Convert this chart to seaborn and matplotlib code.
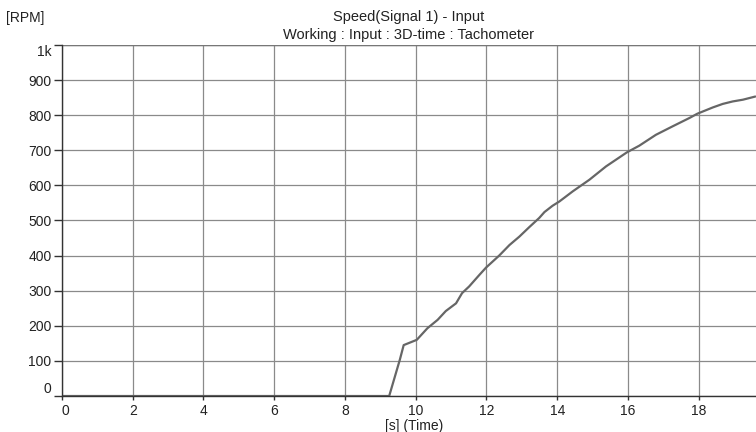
import numpy as np
import pandas as pd
import matplotlib
matplotlib.use("Agg")
import matplotlib.pyplot as plt
import seaborn as sns

# 데이터
time_s = [0.0, 9.25, 9.55, 9.66, 10.03, 10.33, 10.62, 10.85, 11.14, 11.31, 11.51,
          11.80, 11.99, 12.36, 12.65, 12.93, 13.21, 13.49, 13.64, 13.87, 14.06,
          14.44, 14.91, 15.38, 15.97, 16.32, 16.79, 17.26, 17.74, 17.96, 18.40,
          18.68, 18.96, 19.25, 19.60]
speed_rpm = [0, 0, 103, 145, 160, 193, 217, 242, 264, 293, 312,
             345, 366, 400, 430, 454, 481, 507, 524, 542, 554,
             583, 616, 654, 694, 713, 744, 768, 792, 804, 822,
             832, 839, 844, 853]

y_ticks = [0, 100, 200, 300, 400, 500, 600, 700, 800, 900, 1000]
y_labels = ['0', '100', '200', '300', '400', '500', '600', '700', '800', '900', '1k']
x_ticks = [0, 2, 4, 6, 8, 10, 12, 14, 16, 18]

df = pd.DataFrame({'time': time_s, 'speed': speed_rpm})

sns.set_style('white')
plt.rcParams['font.family'] = ['Liberation Sans', 'DejaVu Sans']

fig = plt.figure(figsize=(7.56, 4.32), dpi=100)
ax = fig.add_axes([0.082, 0.0833, 0.918, 0.8127])

sns.lineplot(data=df, x='time', y='speed', ax=ax, color='#666666', linewidth=1.6)

ax.set_xlim(0, 19.62)
ax.set_ylim(0, 1000)
ax.set_xticks(x_ticks)
ax.set_xticklabels([str(t) for t in x_ticks])
ax.set_yticks(y_ticks)
ax.set_yticklabels(y_labels)

# 가장자리 라벨 위치 조정
ylabs = ax.get_yticklabels()
ylabs[0].set_verticalalignment('bottom')
ylabs[-1].set_verticalalignment('top')
ax.get_xticklabels()[0].set_horizontalalignment('left')

ax.grid(True, color='#8a8a8a', linewidth=0.9)
ax.axhline(1000, color='#777777', linewidth=1.0)
for s in ['top', 'right']:
    ax.spines[s].set_visible(False)
for s in ['left', 'bottom']:
    ax.spines[s].set_color('#333333')
    ax.spines[s].set_linewidth(1.0)

ax.tick_params(axis='y', direction='out', length=6, width=1, color='#333333',
               labelsize=10, labelcolor='#222222', pad=1.5, left=True)
ax.tick_params(axis='x', direction='out', length=3, width=1, color='#333333',
               labelsize=10, labelcolor='#222222', pad=2.5, bottom=True)

ax.set_xlabel('')
ax.set_ylabel('')

fig.text(0.548, 1 - 426 / 432, '[s] (Time)', ha='center', va='center', fontsize=10, color='#222222')
fig.text(0.54, 1 - 17 / 432, 'Speed(Signal 1) - Input', ha='center', va='center', fontsize=10.5, color='#222222')
fig.text(0.54, 1 - 35 / 432, 'Working : Input : 3D-time : Tachometer', ha='center', va='center', fontsize=10.5, color='#222222')
fig.text(0.008, 1 - 18 / 432, '[RPM]', ha='left', va='center', fontsize=10, color='#222222')

fig.savefig('out.png', dpi=100)
